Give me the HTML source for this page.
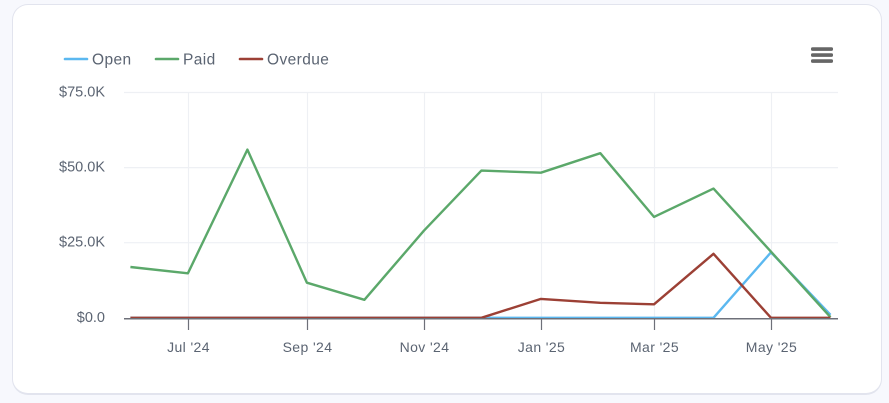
<!DOCTYPE html>
<html lang="en">
<head>
<meta charset="utf-8">
<title>Invoices chart</title>
<style>
html,body{margin:0;padding:0;width:889px;height:403px;overflow:hidden;background:#f7f8fd;}
#card{position:absolute;left:12px;top:4px;width:868px;height:388px;background:#fff;border:1px solid #e2e4ee;border-bottom-width:2px;border-radius:16px;}
svg{position:absolute;left:0;top:0;}
text{font-family:"Liberation Sans",sans-serif;fill:#5b6472;}
</style>
</head>
<body>
<div id="card"></div>
<svg id="chart" width="889" height="403" viewBox="0 0 889 403"></svg>
<script>
const dates = ['2024-06-01','2024-07-01','2024-08-01','2024-09-01','2024-10-01','2024-11-01','2024-12-01','2025-01-01','2025-02-01','2025-03-01','2025-04-01','2025-05-01','2025-06-01'];
const openValues = [0,0,0,0,0,0,0,0,0,0,0,21.8,1];
const paidValues = [16.9,14.8,56,11.7,6,29,49,48.3,54.8,33.6,43,22,0.2];
const overdueValues = [0,0,0,0,0,0,0,6.3,5,4.5,21.3,0,0];
const yTicks = [0,25,50,75];
const yTickLabels = ['$0.0','$25.0K','$50.0K','$75.0K'];
const xTickDates = ['2024-07-01','2024-09-01','2024-11-01','2025-01-01','2025-03-01','2025-05-01'];
const xTickLabels = ["Jul '24","Sep '24","Nov '24","Jan '25","Mar '25","May '25"];
const seriesNames = ['Open','Paid','Overdue'];

const NS = 'http://www.w3.org/2000/svg';
const svg = document.getElementById('chart');
const plot = {left:124,right:838,top:92.5,bottom:317.8};
const day0 = Date.parse('2024-06-01');
const colors = {Open:'#5bb8f0',Paid:'#5ba86a',Overdue:'#9c4035'};

function xScale(d){ return 130.4 + (Date.parse(d)-day0)/86400000*1.918; }
function yScale(v){ return plot.bottom - v/75*(plot.bottom-plot.top); }
function add(tag,attrs,parent){
  const el = document.createElementNS(NS,tag);
  for(const k in attrs) el.setAttribute(k,attrs[k]);
  (parent||svg).appendChild(el);
  return el;
}

yTicks.forEach((t,i)=>{
  if(t!==0){
    const g = add('line',{x1:plot.left,x2:plot.right,y1:yScale(t),y2:yScale(t),stroke:'#eef0f4','stroke-width':1.2});
    
    
  }
  const lab = add('text',{x:105,y:yScale(t)+4,'text-anchor':'end','font-size':14.5});
  lab.textContent = yTickLabels[i];
  
  
});

xTickDates.forEach((d,i)=>{
  const x = Math.round(xScale(d))+0.5;
  const g = add('line',{x1:x,x2:x,y1:plot.top,y2:plot.bottom,stroke:'#eef0f4','stroke-width':1.2});
  
  
  const lab = add('text',{x:x,y:352,'text-anchor':'middle','font-size':14,'letter-spacing':0.4});
  lab.textContent = xTickLabels[i];
  
  
});

function drawSeries(name,values){
  const pts = values.map((v,i)=>xScale(dates[i]).toFixed(1)+','+yScale(v).toFixed(1)).join(' ');
  const p = add('polyline',{points:pts,fill:'none',stroke:colors[name],'stroke-width':2.4,'stroke-linejoin':'round'});
  
  
}
drawSeries('Open',openValues);
drawSeries('Paid',paidValues);
drawSeries('Overdue',overdueValues);

const axis = add('line',{x1:plot.left,x2:plot.right,y1:318.8,y2:318.8,stroke:'#6e7079','stroke-width':1.5});



xTickDates.forEach(d=>{
  const x = Math.round(xScale(d))+0.5;
  const tk = add('line',{x1:x,x2:x,y1:318.5,y2:330,stroke:'#6e7079','stroke-width':1.2});
  
  
});

const legendX = [65,156,240];
seriesNames.forEach((n,i)=>{
  const g = add('g',{});
  
  
  const l = add('line',{x1:legendX[i],x2:legendX[i]+22,y1:59,y2:59,stroke:colors[n],'stroke-width':2.6,'stroke-linecap':'round'},g);
  
  
  const t = add('text',{x:legendX[i]+27,y:64.5,'font-size':15.5,'letter-spacing':0.4},g);
  t.textContent = n;
  
  
});

const menu = add('g',{});


[47.3,53.3,59.3].forEach(y=>{
  const r = add('rect',{x:811,y:y,width:22,height:3.6,rx:1.5,fill:'#666666'},menu);
  
  
});
</script>
</body>
</html>
